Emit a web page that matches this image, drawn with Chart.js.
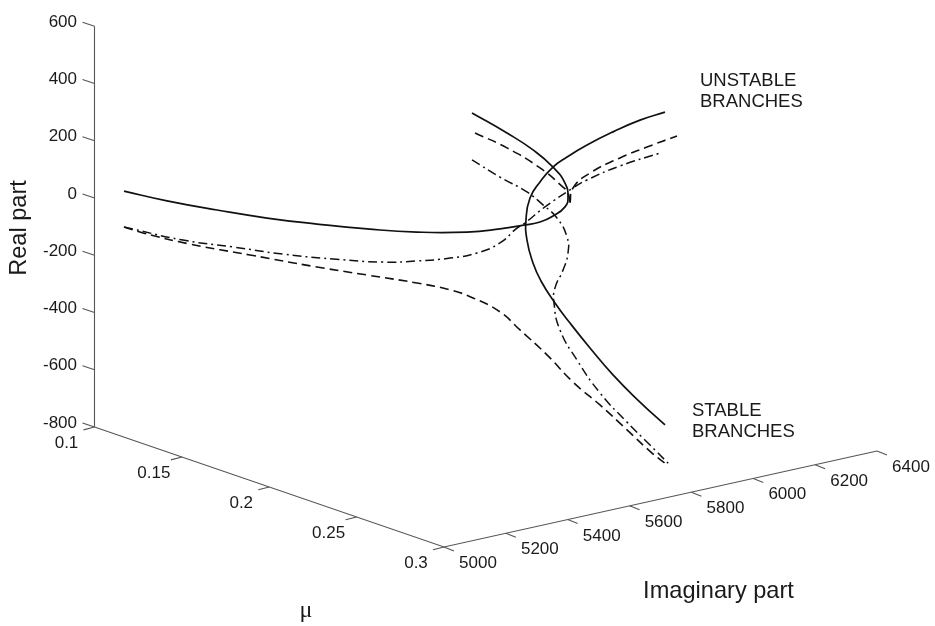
<!DOCTYPE html>
<html><head><meta charset="utf-8"><style>html,body{margin:0;background:#fff}canvas{display:block}</style>
<script src="https://cdn.jsdelivr.net/npm/chart.js@4"></script></head>
<body><canvas id="c" width="935" height="626"></canvas>
<script>
// Each curve: horizontal view position, and height on the Real part axis
const solidAX=[124,167,217,267,317,367,417,467,500,525,540,553,565,568,565,553,533,507,472];
const solidAY=[24,-10,-42,-70,-91,-108,-119,-119,-108,-94,-84,-63,-31,3,52,108,168,227,297];
const solidBX=[665,640,613,587,567,553,540,530,526,527,533,541,555,570,590,613,640,665];
const solidBY=[300,272,231,185,143,108,56,0,-77,-147,-227,-290,-367,-437,-524,-618,-713,-793];
const dashDotCX=[124,183,233,283,333,383,417,450,477,500,517,525,545,573,587,620,660];
const dashDotCY=[-101,-147,-171,-196,-213,-224,-220,-210,-192,-157,-105,-87,-31,35,63,112,157];
const dashDotDX=[472,500,527,543,557,567,568,563,555,554,560,577,600,627,650,670];
const dashDotDY=[133,73,21,-24,-70,-136,-192,-252,-314,-367,-461,-566,-681,-783,-863,-933];
const dashedEX=[124,143,190,250,317,367,417,450,473,500,520,547,573,600,627,652,666];
const dashedEY=[-101,-122,-161,-199,-241,-269,-297,-321,-349,-398,-461,-548,-643,-723,-810,-891,-929];
const dashedF1X=[475,507,540,563,568,570];
const dashedF1Y=[227,175,105,38,17,-17];
const dashedF2X=[570,573,590,620,647,677];
const dashedF2Y=[-17,35,87,140,178,217];

const realTicks=[-800,-600,-400,-200,0,200,400,600];
const muTicks=['0.1','0.15','0.2','0.25','0.3'];
const imagTicks=['5000','5200','5400','5600','5800','6000','6200','6400'];

// Axis corners in the same view coordinates
const cornerBack={x:94.5,y:-800}, cornerFront={x:444,y:-1219}, cornerRight={x:877,y:-884};

const zip=(xs,ys)=>xs.map((x,i)=>({x,y:ys[i]}));
const along=(a,b,t)=>({x:a.x+(b.x-a.x)*t,y:a.y+(b.y-a.y)*t});
const muPos=muTicks.map((_,i)=>along(cornerBack,cornerFront,i/(muTicks.length-1)));
const imagPos=imagTicks.map((_,i)=>along(cornerFront,cornerRight,i/(imagTicks.length-1)));
const stubs=(pts,dx,dy)=>pts.flatMap(p=>[p,{x:p.x+dx,y:p.y+dy},{x:p.x,y:NaN}]);

const axisStyle={borderColor:'#555',borderWidth:1.1,pointRadius:0,tension:0,spanGaps:false,clip:false,showLine:true};
const solid={borderColor:'#111',borderWidth:1.7,pointRadius:0,tension:0.5,showLine:true,clip:false};
const dashed={...solid,borderWidth:1.6,borderDash:[9,5]};
const dashDot={...solid,borderWidth:1.5,borderDash:[9,4,2,4]};

const textPlugin={id:'textPlugin',afterDraw(ch){
  const {x:X,y:Y}=ch.scales,g=ch.ctx;
  const put=(s,x,y,font,align='center',rot=0)=>{g.save();g.translate(x,y);g.rotate(rot);
    g.font=font;g.fillStyle='#1a1a1a';g.textAlign=align;g.textBaseline='alphabetic';g.fillText(s,0,0);g.restore();};
  const tick='17px "Liberation Sans"';
  muTicks.forEach((s,i)=>put(s,X.getPixelForValue(muPos[i].x)-28,Y.getPixelForValue(muPos[i].y)+21,tick));
  imagTicks.forEach((s,i)=>put(s,X.getPixelForValue(imagPos[i].x)+34,Y.getPixelForValue(imagPos[i].y)+21,tick));
  const title='23.6px "Liberation Sans"', note='18.5px "Liberation Sans"';
  put('Real part',26,228,title,'center',-Math.PI/2);
  put('Imaginary part',718.5,598,title);
  put('μ',306,617,'24px "Liberation Serif"');
  put('UNSTABLE',700,86,note,'left');put('BRANCHES',700,107,note,'left');
  put('STABLE',692,416,note,'left');put('BRANCHES',692,437,note,'left');
}};

new Chart(document.getElementById('c'),{
  type:'scatter',
  data:{datasets:[
    {...axisStyle,data:[{x:cornerBack.x,y:600},cornerBack]},
    {...axisStyle,data:[cornerBack,cornerFront,cornerRight]},
    {...axisStyle,data:stubs(realTicks.map(v=>({x:cornerBack.x,y:v})),-12,14)},
    {...axisStyle,data:stubs(muPos,-11,-10)},
    {...axisStyle,data:stubs(imagPos,10,-14)},
    {...solid,data:zip(solidAX,solidAY)},
    {...solid,data:zip(solidBX,solidBY)},
    {...dashDot,data:zip(dashDotCX,dashDotCY)},
    {...dashDot,data:zip(dashDotDX,dashDotDY)},
    {...dashed,data:zip(dashedEX,dashedEY)},
    {...dashed,data:zip(dashedF1X,dashedF1Y)},
    {...dashed,data:zip(dashedF2X,dashedF2Y)}
  ]},
  options:{
    responsive:false,animation:false,
    layout:{padding:0},
    plugins:{legend:{display:false},tooltip:{enabled:false},title:{display:false}},
    scales:{
      x:{type:'linear',display:false,min:94.5,max:935},
      y:{type:'linear',min:-1495.2,max:691.7,
        afterFit(s){s.width=94.5;s.paddingTop=0;s.paddingBottom=0;},
        afterBuildTicks(s){s.ticks=realTicks.map(v=>({value:v}));},
        grid:{display:false,drawTicks:false},
        border:{display:false},
        ticks:{autoSkip:false,padding:17.5,labelOffset:-4,color:'#1a1a1a',
          font:{family:'"Liberation Sans"',size:17}}
      }
    }
  },
  plugins:[textPlugin]
});
</script></body></html>
